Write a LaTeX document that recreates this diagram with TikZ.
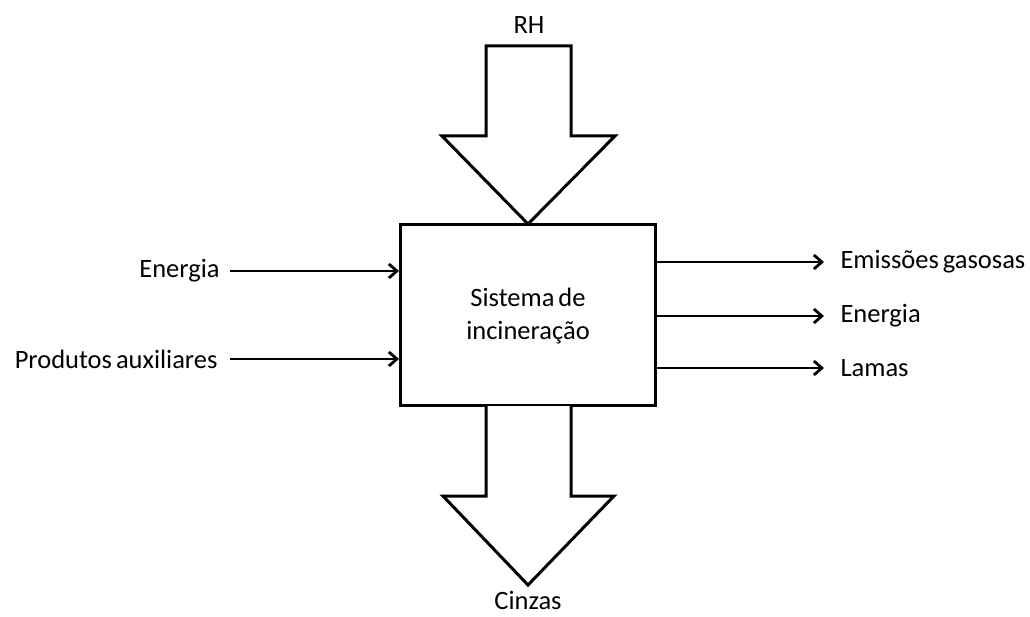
\documentclass[tikz,border=0pt]{standalone}
\usepackage{fontspec}
\setmainfont{Carlito}
\usetikzlibrary{arrows.meta}
\newcommand\labelfont{\fontsize{26.5}{33}\selectfont\spaceskip=0.15em\relax}
\begin{document}
\begin{tikzpicture}[x=1pt,y=-1pt,
  line width=3pt,
  lbl/.style={font=\labelfont, inner sep=0pt},
  flow/.style={-{Straight Barb[length=8pt,width=14pt,line width=2.8pt]}, line width=2.8pt},
  bigarrow/.style={draw, line join=miter, fill=white}]
\useasboundingbox (0,0) rectangle (1030,617);
% central process box
\node[draw, minimum width=255pt, minimum height=180pt, inner sep=0pt, line width=3pt] (box) at (528,315) {};
\node[lbl, align=center] (sys) at (528,316) {Sistema de\\incineração};
% input block arrow from the top
\draw[bigarrow] (486,46) -- (571,46) -- (571,136) -- (615,136) -- (528,224) -- (442,136) -- (486,136) -- cycle;
\node[lbl] (rh) at (529,25) {RH};
% output block arrow towards the bottom
\draw[bigarrow] (486,406) -- (486,496) -- (443,496) -- (528,585) -- (614,496) -- (571,496) -- (571,406);
\node[lbl, anchor=base] (cinzas) at (528,609) {Cinzas};
% inputs on the left
\node[lbl, anchor=east] (ein) at (221,271) {Energia};
\node[lbl, anchor=east] (pa) at (219,359) {Produtos auxiliares};
\coordinate (einA) at (230,271);
\coordinate (paA) at (230,359);
\draw[flow] (einA) -- (einA -| box.west);
\draw[flow] (paA) -- (paA -| box.west);
% outputs on the right
\node[lbl, anchor=west] (em) at (839,262) {Emissões gasosas};
\node[lbl, anchor=west] (eout) at (839,316) {Energia};
\node[lbl, anchor=west] (lam) at (839,368) {Lamas};
\draw[flow] (box.east |- em.west) -- (824,262);
\draw[flow] (box.east |- eout.west) -- (824,316);
\draw[flow] (box.east |- lam.west) -- (824,368);
\end{tikzpicture}
\end{document}
